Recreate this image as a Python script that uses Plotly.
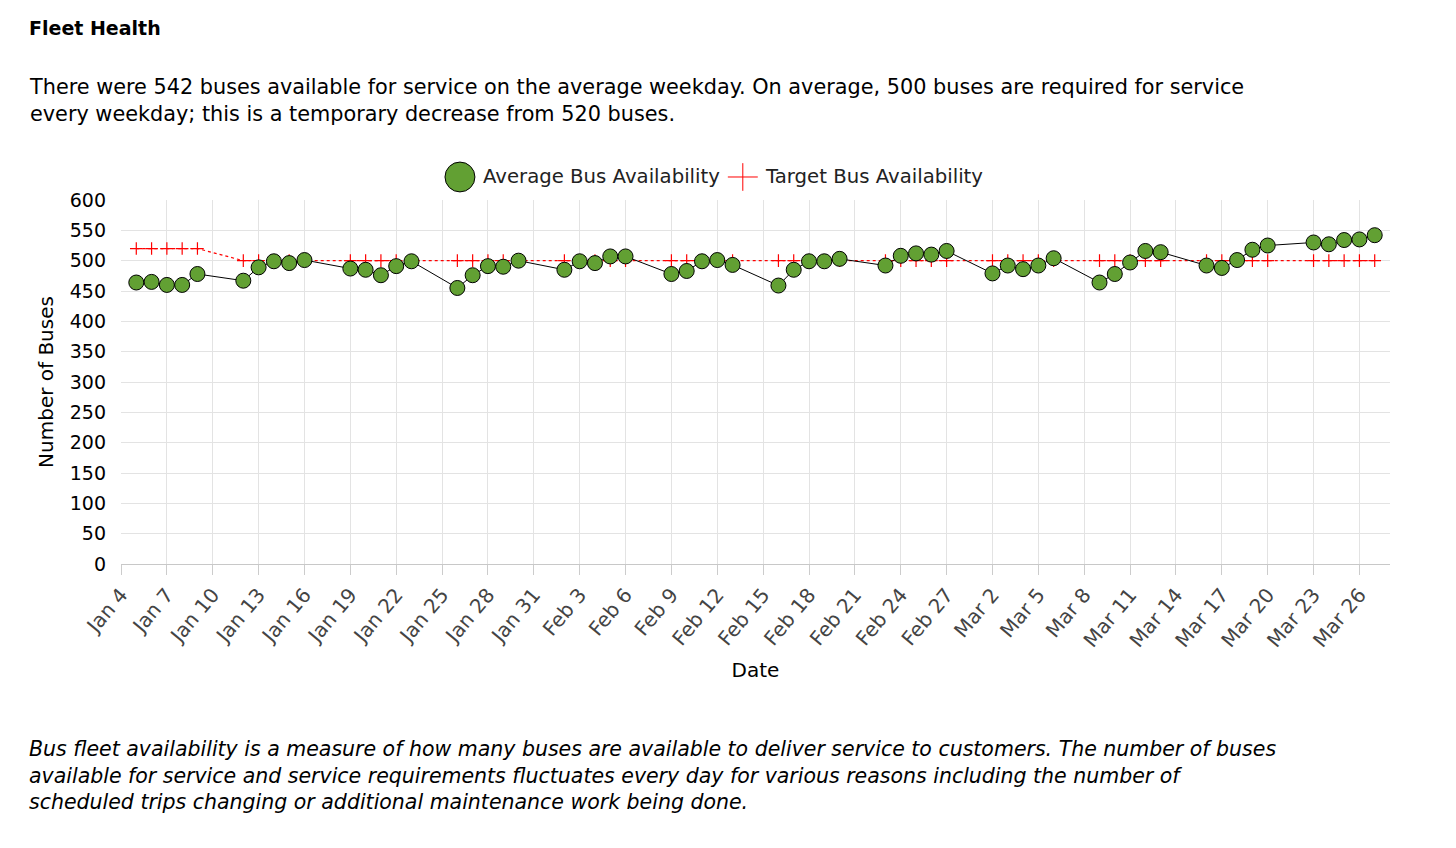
import pandas as pd
import plotly.graph_objects as go

# Daily bus availability (points sit on the plotted days of each week)
dates = pd.bdate_range("2021-01-05", "2021-03-27", freq="C",
                       weekmask="Tue Wed Thu Fri Sat")

avg_available = [
    464, 465, 460, 460, 478,
    467, 489, 499, 496, 501,
    487, 485, 476, 491, 499,
    455, 476, 491, 490, 500,
    485, 499, 496, 507, 507,
    478, 483, 499, 501, 493,
    459, 485, 499, 499, 503,
    492, 508, 512, 510, 516,
    479, 492, 486, 492, 504,
    464, 478, 497, 516, 514,
    492, 488, 501, 518, 525,
    530, 527, 534, 535, 542,
]
target_available = [520] * 5 + [500] * 55

series_names = ["Average Bus Availability", "Target Bus Availability"]

title_text = "<b>Fleet Health</b>"
intro_text = ("There were 542 buses available for service on the average weekday. "
              "On average, 500 buses are required for service<br>"
              "every weekday; this is a temporary decrease from 520 buses.")
note_text = ("<i>Bus fleet availability is a measure of how many buses are available to "
             "deliver service to customers. The number of buses<br>"
             "available for service and service requirements fluctuates every day for "
             "various reasons including the number of<br>"
             "scheduled trips changing or additional maintenance work being done.</i>")

FONT = "DejaVu Sans, Verdana, sans-serif"
GREEN = "#62a033"
RED = "#ff0000"

fig = go.Figure()

# target line (drawn first so the circles sit on top)
fig.add_trace(go.Scatter(
    x=dates, y=target_available,
    mode="lines+markers",
    name=series_names[1],
    line=dict(color=RED, width=1.2, dash="dot"),
    marker=dict(symbol="cross-thin", size=9, line=dict(color=RED, width=1.2)),
))

fig.add_trace(go.Scatter(
    x=dates, y=avg_available,
    mode="lines+markers",
    name=series_names[0],
    line=dict(color="black", width=1),
    marker=dict(size=15, color=GREEN, line=dict(color="black", width=1)),
))

# hand-drawn legend (the built-in one caps symbol size at 16px)
leg_y = 1.0632
shapes = [
    dict(type="circle", xref="paper", yref="paper",
         x0=0.2553, x1=0.2789, y0=leg_y - 0.041, y1=leg_y + 0.041,
         fillcolor=GREEN, line=dict(color="black", width=1)),
    dict(type="line", xref="paper", yref="paper",
         x0=0.4782, x1=0.5018, y0=leg_y, y1=leg_y,
         line=dict(color=RED, width=1)),
    dict(type="line", xref="paper", yref="paper",
         x0=0.49, x1=0.49, y0=leg_y - 0.038, y1=leg_y + 0.038,
         line=dict(color=RED, width=1)),
]

fig.update_layout(
    width=1440,
    height=832,
    paper_bgcolor="white",
    plot_bgcolor="white",
    font=dict(family=FONT, size=20, color="black"),
    margin=dict(l=113, r=58, t=192, b=276),
    showlegend=False,
    shapes=shapes,
    annotations=[
        dict(text=title_text, xref="paper", yref="paper", x=-0.0742, y=1.4725,
             xanchor="left", yanchor="middle", showarrow=False, align="left",
             font=dict(size=19, color="black")),
        dict(text=intro_text, xref="paper", yref="paper", x=-0.0742, y=1.2734,
             xanchor="left", yanchor="middle", showarrow=False, align="left",
             font=dict(size=20.8, color="black")),
        dict(text=note_text, xref="paper", yref="paper", x=-0.0742, y=-0.5797,
             xanchor="left", yanchor="middle", showarrow=False, align="left",
             font=dict(size=20.5, color="black")),
        dict(text=series_names[0], xref="paper", yref="paper", x=0.2833, y=leg_y,
             xanchor="left", yanchor="middle", showarrow=False,
             font=dict(size=19.7, color="#222")),
        dict(text=series_names[1], xref="paper", yref="paper", x=0.5063, y=leg_y,
             xanchor="left", yanchor="middle", showarrow=False,
             font=dict(size=19.7, color="#222")),
    ],
)

fig.update_xaxes(
    type="date",
    range=["2021-01-04", "2021-03-28"],
    tick0="2021-01-04",
    dtick=3 * 86400000,
    tickformat="%b %-d",
    tickangle=-50,
    tickfont=dict(size=20, color="#444"),
    ticks="outside", ticklen=10, tickcolor="#cccccc",
    showgrid=True, gridcolor="#e3e3e3",
    showline=True, linecolor="#c8c8c8",
    zeroline=False,
    title=dict(text="Date", font=dict(size=20, color="black"), standoff=12),
)

fig.update_yaxes(
    range=[0, 600],
    dtick=50,
    tickfont=dict(size=19, color="black"),
    ticklabelstandoff=14,
    showgrid=True, gridcolor="#e3e3e3",
    zeroline=False,
    title=dict(text="Number of Buses", font=dict(size=20, color="black"), standoff=10),
)

fig.write_html("out.html")
